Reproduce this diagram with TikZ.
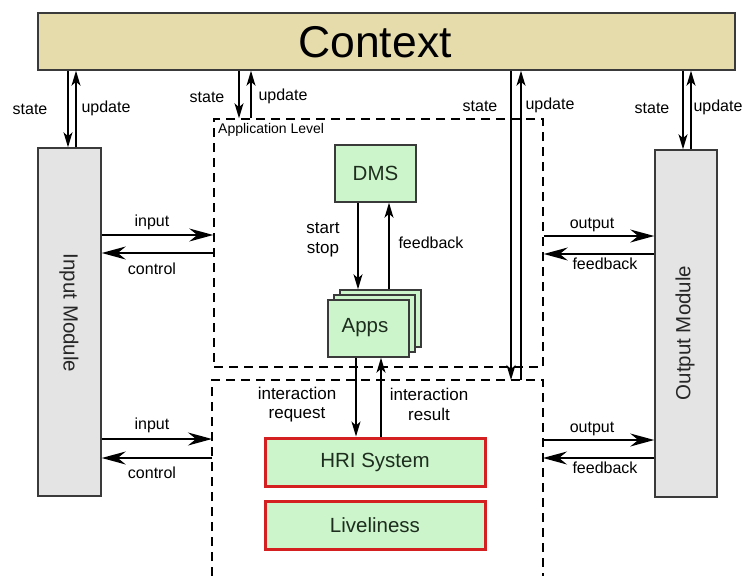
\documentclass[tikz,border=0pt]{standalone}
\usepackage{fontspec}
\setmainfont{Liberation Sans}
\usetikzlibrary{arrows.meta}

\definecolor{ctxfill}{HTML}{E5DBAB}
\definecolor{modfill}{HTML}{E4E4E4}
\definecolor{boxfill}{HTML}{CCF5CC}
\definecolor{hriedge}{HTML}{D42020}
\definecolor{boxtext}{HTML}{1E2E1E}
\definecolor{edgecol}{HTML}{3A3A3A}

\begin{document}
\begin{tikzpicture}[x=1pt,y=-1pt,
  plainbox/.style={draw=edgecol, line width=1.5pt, inner sep=0pt, anchor=center},
  ctxbox/.style={plainbox, fill=ctxfill},
  modbox/.style={plainbox, fill=modfill},
  greenbox/.style={plainbox, fill=boxfill, text=boxtext, font=\fontsize{20.5}{24}\selectfont},
  hribox/.style={greenbox, draw=hriedge, line width=3pt},
  area/.style={draw=black, line width=1.5pt, dash pattern=on 9pt off 6pt},
  lbl/.style={font=\fontsize{16}{19}\selectfont, inner sep=0pt, align=center},
  lblbig/.style={font=\fontsize{17}{19.5}\selectfont, inner sep=0pt, align=center},
  vflow/.style={line width=1.3pt, -{Stealth[length=15pt,width=9pt,inset=4pt]}},
  hflow/.style={line width=1.3pt, -{Stealth[length=24pt,width=13pt,inset=8pt]}}
]
\useasboundingbox (0,0) rectangle (745,576);

% --- blocks ---
\node[ctxbox, minimum width=697pt, minimum height=57pt] (ctx) at (386.5,41.5) {};
\node[font=\fontsize{44.5}{50}\selectfont, inner sep=0pt] (ctxlabel) at (375,42) {Context};

\node[modbox, minimum width=63pt, minimum height=348pt] (inmod) at (69.5,322) {};
\node[rotate=-90, font=\fontsize{20.5}{24}\selectfont, text=black!85, inner sep=0pt] (inlabel) at (69,313) {Input Module};

\node[modbox, minimum width=62pt, minimum height=347pt] (outmod) at (686,323.5) {};
\node[rotate=90, font=\fontsize{20.5}{24}\selectfont, text=black!85, inner sep=0pt] (outlabel) at (685,333) {Output Module};

% application level area and the lower area
\node[area, minimum width=329pt, minimum height=248pt, inner sep=0pt] (app) at (378.5,243) {};
\node[anchor=west, font=\fontsize{14}{16}\selectfont, inner sep=0pt] (applabel) at (218,130) {Application Level};

\coordinate (lowtl) at (212,380);
\coordinate (lowtr) at (543,380);
\coordinate (lowbl) at (212,576);
\coordinate (lowbr) at (543,576);
\draw[area] (lowbl) -- (lowtl) -- (lowtr) -- (lowbr);

\node[greenbox, minimum width=81pt, minimum height=57pt] (dms) at (375.5,173.5) {DMS};

\node[greenbox, minimum width=81pt, minimum height=57pt] (apps3) at (380.5,318.5) {};
\node[greenbox, minimum width=81pt, minimum height=57pt] (apps2) at (374.5,323.5) {};
\node[greenbox, minimum width=81pt, minimum height=57pt] (apps) at (368.5,328.5) {};
\node[font=\fontsize{20.5}{24}\selectfont, text=boxtext, inner sep=0pt] (appslabel) at (365,328) {Apps};

\node[hribox, minimum width=220pt, minimum height=48pt] (hri) at (375,462) {HRI System};
\node[hribox, minimum width=220pt, minimum height=48pt] (live) at (375,525) {Liveliness};

% --- columns of the vertical connectors ---
\coordinate (xls) at (68,0);
\coordinate (xlu) at (76,0);
\coordinate (xas) at (239,0);
\coordinate (xau) at (251,0);
\coordinate (xrs) at (511,0);
\coordinate (xru) at (521,0);
\coordinate (xos) at (683,0);
\coordinate (xou) at (691,0);
\coordinate (xss) at (358,0);
\coordinate (xfb) at (389,0);
\coordinate (xir) at (356,0);
\coordinate (xres) at (381,0);

% --- rows of the horizontal connectors ---
\coordinate (yin1) at (0,235);
\coordinate (yct1) at (0,253);
\coordinate (yin2) at (0,439);
\coordinate (yct2) at (0,458);
\coordinate (yout1) at (0,236);
\coordinate (yfb1) at (0,254);
\coordinate (yout2) at (0,440);
\coordinate (yfb2) at (0,458);

% context <-> modules and levels
\draw[vflow] (ctx.south -| xls) -- (inmod.north -| xls);
\draw[vflow] (inmod.north -| xlu) -- (ctx.south -| xlu);
\draw[vflow] (ctx.south -| xas) -- (app.north -| xas);
\draw[vflow] (app.north -| xau) -- (ctx.south -| xau);
\draw[vflow] (ctx.south -| xrs) -- (lowtl -| xrs);
\draw[vflow] (lowtl -| xru) -- (ctx.south -| xru);
\draw[vflow] (ctx.south -| xos) -- (outmod.north -| xos);
\draw[vflow] (outmod.north -| xou) -- (ctx.south -| xou);

\node[lbl] (st1) at (30,109) {state};
\node[lbl] (up1) at (106,108) {update};
\node[lbl] (st2) at (207,97) {state};
\node[lbl] (up2) at (283,96) {update};
\node[lbl] (st3) at (480,106) {state};
\node[lbl] (up3) at (550,105) {update};
\node[lbl] (st4) at (652,108) {state};
\node[lbl] (up4) at (718,107) {update};

% DMS <-> Apps
\draw[vflow] (dms.south -| xss) -- (apps3.north -| xss);
\draw[vflow] (apps3.north -| xfb) -- (dms.south -| xfb);
\node[lblbig] (ssl) at (323,240) {start\\stop};
\node[lbl] (fbl) at (431,243) {feedback};

% Apps <-> HRI system
\draw[vflow] (apps.south -| xir) -- (hri.north -| xir);
\draw[vflow] (hri.north -| xres) -- (apps.south -| xres);
\node[lblbig] (irl) at (297,404.5) {interaction\\request};
\node[lblbig] (irr) at (429,404.5) {interaction\\result};

% input module <-> levels
\draw[hflow] (inmod.east |- yin1) -- (app.west |- yin1);
\draw[hflow] (app.west |- yct1) -- (inmod.east |- yct1);
\draw[hflow] (inmod.east |- yin2) -- (lowtl |- yin2);
\draw[hflow] (lowtl |- yct2) -- (inmod.east |- yct2);
\node[lbl] (inl1) at (152,222) {input};
\node[lbl] (ctl1) at (152,269) {control};
\node[lbl] (inl2) at (152,425) {input};
\node[lbl] (ctl2) at (152,473) {control};

% levels <-> output module
\draw[hflow] (app.east |- yout1) -- (outmod.west |- yout1);
\draw[hflow] (outmod.west |- yfb1) -- (app.east |- yfb1);
\draw[hflow] (lowtr |- yout2) -- (outmod.west |- yout2);
\draw[hflow] (outmod.west |- yfb2) -- (lowtr |- yfb2);
\node[lbl] (ol1) at (592,225) {output};
\node[lbl] (fl1) at (605,264) {feedback};
\node[lbl] (ol2) at (592,429) {output};
\node[lbl] (fl2) at (605,468) {feedback};
\end{tikzpicture}
\end{document}
